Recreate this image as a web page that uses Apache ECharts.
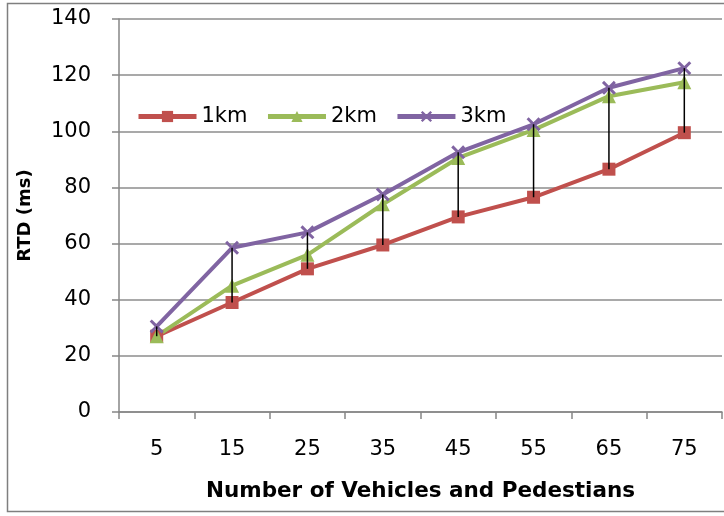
<!DOCTYPE html>
<html><head><meta charset="utf-8">
<script src="https://cdn.jsdelivr.net/npm/echarts@6/dist/echarts.min.js"></script>
<style>html,body{margin:0;padding:0;background:#fff}#c{width:724px;height:516px}</style>
</head><body><div id="c"></div>
<script>
var categories = ['5','15','25','35','45','55','65','75'];
var km1 = [27, 39, 51, 59.5, 69.5, 76.5, 86.5, 99.5];
var km2 = [27, 45, 56, 74, 90.5, 100.5, 112.5, 117.5];
var km3 = [30.5, 58.5, 64, 77.5, 92.5, 102.5, 115.5, 122.5];
var seriesNames = ['1km','2km','3km'];

var FONT = '"DejaVu Sans", "Liberation Sans", sans-serif';
var xPath = 'path://M0,1.5L1.5,0L5,3.5L8.5,0L10,1.5L6.5,5L10,8.5L8.5,10L5,6.5L1.5,10L0,8.5L3.5,5Z';

var hl = categories.map(function(c, i){
  return [i, Math.max(km1[i], km2[i], km3[i]), Math.min(km1[i], km2[i], km3[i])];
});

var chart = echarts.init(document.getElementById('c'));
chart.setOption({
  animation: false,
  backgroundColor: '#fff',
  graphic: [{type:'rect', shape:{x:7.5,y:3.5,width:740,height:508}, style:{fill:'none', stroke:'#7f7f7f', lineWidth:1.5}, z:-1}],
  grid: {left:119, right:2, top:19, bottom:104},
  legend: {
    left: 131, top: 101, itemGap: 18, itemWidth: 58, itemHeight: 14,
    lineStyle: {width: 5},
    textStyle: {fontFamily: FONT, fontSize: 21, color:'#000'},
    data: seriesNames
  },
  xAxis: {
    type: 'category', data: categories, boundaryGap: true,
    axisLine: {lineStyle:{color:'#868686', width:1.5}},
    axisTick: {show:true, interval:0, length:7, inside:false, alignWithLabel:false, lineStyle:{color:'#868686', width:1.5}},
    axisLabel: {margin: 27, fontFamily: FONT, fontSize: 21, color:'#000'},
    name: 'Number of Vehicles and Pedestians', nameLocation:'middle', nameGap: 68,
    nameTextStyle: {fontFamily: FONT, fontSize: 21.5, fontWeight:'bold', color:'#000'}
  },
  yAxis: {
    type: 'value', min: 0, max: 140, interval: 20,
    axisLine: {show:true, lineStyle:{color:'#868686', width:1.5}},
    axisTick: {show:true, length:7, lineStyle:{color:'#868686', width:1.5}},
    axisLabel: {margin: 28, fontFamily: FONT, fontSize: 21, color:'#000'},
    splitLine: {lineStyle:{color:'#8c8c8c', width:1.5}},
    name: 'RTD (ms)', nameLocation:'middle', nameGap: 85, nameRotate: 90,
    nameTextStyle: {fontFamily: FONT, fontSize: 18, fontWeight:'bold', color:'#000'}
  },
  series: [
    {
      name:'hl', type:'custom', data: hl, z: 5, silent: true,
      renderItem: function(params, api){
        var p1 = api.coord([api.value(0), api.value(1)]);
        var p2 = api.coord([api.value(0), api.value(2)]);
        return {type:'line', shape:{x1:p1[0], y1:p1[1], x2:p2[0], y2:p2[1]}, style:{stroke:'#000', lineWidth:1.5}};
      }
    },
    {name:'1km', type:'line', data: km1, symbol:'rect', symbolSize: 13,
     lineStyle:{color:'#C0504D', width:4}, itemStyle:{color:'#C0504D'}, z:3},
    {name:'2km', type:'line', data: km2, symbol:'triangle', symbolSize: 14,
     lineStyle:{color:'#9BBB59', width:4}, itemStyle:{color:'#9BBB59'}, z:3},
    {name:'3km', type:'line', data: km3, symbol: xPath, symbolSize: 14,
     lineStyle:{color:'#8064A2', width:4}, itemStyle:{color:'#8064A2'}, z:3}
  ]
});
</script>
</body></html>
